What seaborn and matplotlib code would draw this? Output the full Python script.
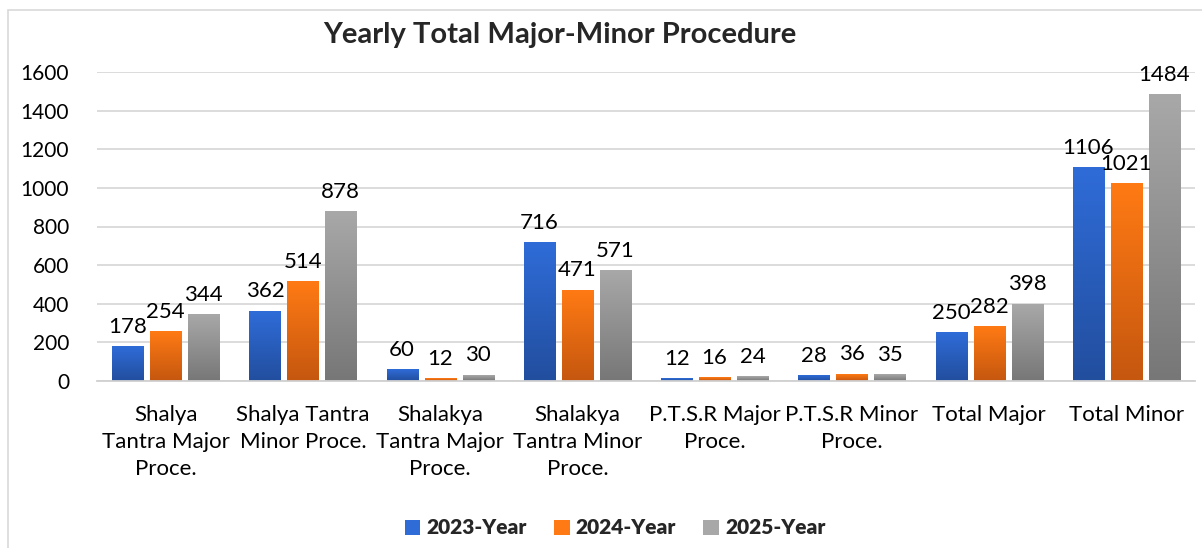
import numpy as np
import pandas as pd
import matplotlib
matplotlib.use("Agg")
import matplotlib.pyplot as plt
from matplotlib.patches import Patch, Rectangle
from matplotlib.colors import LinearSegmentedColormap
import seaborn as sns

# chart data
categories = [
    "Shalya\nTantra Major\nProce.",
    "Shalya Tantra\nMinor Proce.",
    "Shalakya\nTantra Major\nProce.",
    "Shalakya\nTantra Minor\nProce.",
    "P.T.S.R Major\nProce.",
    "P.T.S.R Minor\nProce.",
    "Total Major",
    "Total Minor",
]
years = ["2023-Year", "2024-Year", "2025-Year"]
values_2023 = [178, 362, 60, 716, 12, 28, 250, 1106]
values_2024 = [254, 514, 12, 471, 16, 36, 282, 1021]
values_2025 = [344, 878, 30, 571, 24, 35, 398, 1484]

# gradient (top, bottom) per series
grad_colors = {
    "2023-Year": ("#2F6CD8", "#224E9E"),
    "2024-Year": ("#FF7A14", "#C5570F"),
    "2025-Year": ("#A8A8A8", "#777777"),
}

df = pd.DataFrame({
    "category": categories * 3,
    "year": np.repeat(years, len(categories)),
    "value": values_2023 + values_2024 + values_2025,
})

sns.set_theme(style="white")
plt.rcParams["font.family"] = ["Lato", "DejaVu Sans"]

fig = plt.figure(figsize=(12.02, 5.48), dpi=100)
W, H = 1202, 548
ax = fig.add_axes([97 / W, 1 - 381 / H, (1195 - 97) / W, (381 - 72) / H])

sns.barplot(data=df, x="category", y="value", hue="year", hue_order=years,
            order=categories, width=0.83, gap=0.18, ax=ax, legend=False,
            palette=[grad_colors[y][0] for y in years])

# replace flat fills with vertical gradients and add value labels
n = len(categories)
for i, patch in enumerate(ax.patches):
    yr = years[i // n]
    top, bottom = grad_colors[yr]
    cmap = LinearSegmentedColormap.from_list(yr, [bottom, top])
    x0, w, h = patch.get_x(), patch.get_width(), patch.get_height()
    grad = np.linspace(1, 0, 100).reshape(-1, 1)
    ax.imshow(grad, cmap=cmap, extent=(x0, x0 + w, 0, h), aspect="auto",
              zorder=2, vmin=0, vmax=1)
    patch.set_alpha(0)
    ax.annotate(f"{int(h)}", (x0 + w / 2, h), xytext=(0, 7),
                textcoords="offset points", ha="center", va="bottom",
                fontsize=16, color="#000000")

ax.set_xlim(-0.5, n - 0.5)
ax.set_ylim(0, 1600)
ax.set_yticks(range(0, 1601, 200))
ax.yaxis.grid(True, color="#D9D9D9", linewidth=1.3)
ax.set_axisbelow(True)
for s in ["top", "right", "left"]:
    ax.spines[s].set_visible(False)
ax.spines["bottom"].set_color("#D0D0D0")
ax.spines["bottom"].set_linewidth(1.3)
ax.tick_params(axis="y", length=0, pad=20, labelsize=15, labelcolor="#000000")
ax.tick_params(axis="x", length=0, pad=17, labelsize=16, labelcolor="#000000")
for lbl in ax.get_xticklabels():
    lbl.set_linespacing(1.45)
    lbl.set_va("top")
ax.set_xlabel("")
ax.set_ylabel("")

fig.text(560 / W, 1 - 35 / H, "Yearly Total Major-Minor Procedure",
         ha="center", va="center", fontsize=21, fontweight="bold")

handles = [Patch(facecolor=grad_colors[y][0], edgecolor="none", label=y) for y in years]
fig.legend(handles=handles, loc="center", bbox_to_anchor=(615 / W, 1 - 528 / H),
           ncol=3, frameon=False, prop={"weight": "heavy", "size": 15},
           handlelength=0.75, handleheight=0.75, handletextpad=0.3, columnspacing=1.3)

# outer chart border
fig.patches.append(Rectangle((8 / W, -0.1), 1.2, 1 - 10 / H + 0.1,
                             transform=fig.transFigure, fill=False,
                             edgecolor="#D9D9D9", linewidth=1.2))

fig.savefig("out.png", dpi=100)
